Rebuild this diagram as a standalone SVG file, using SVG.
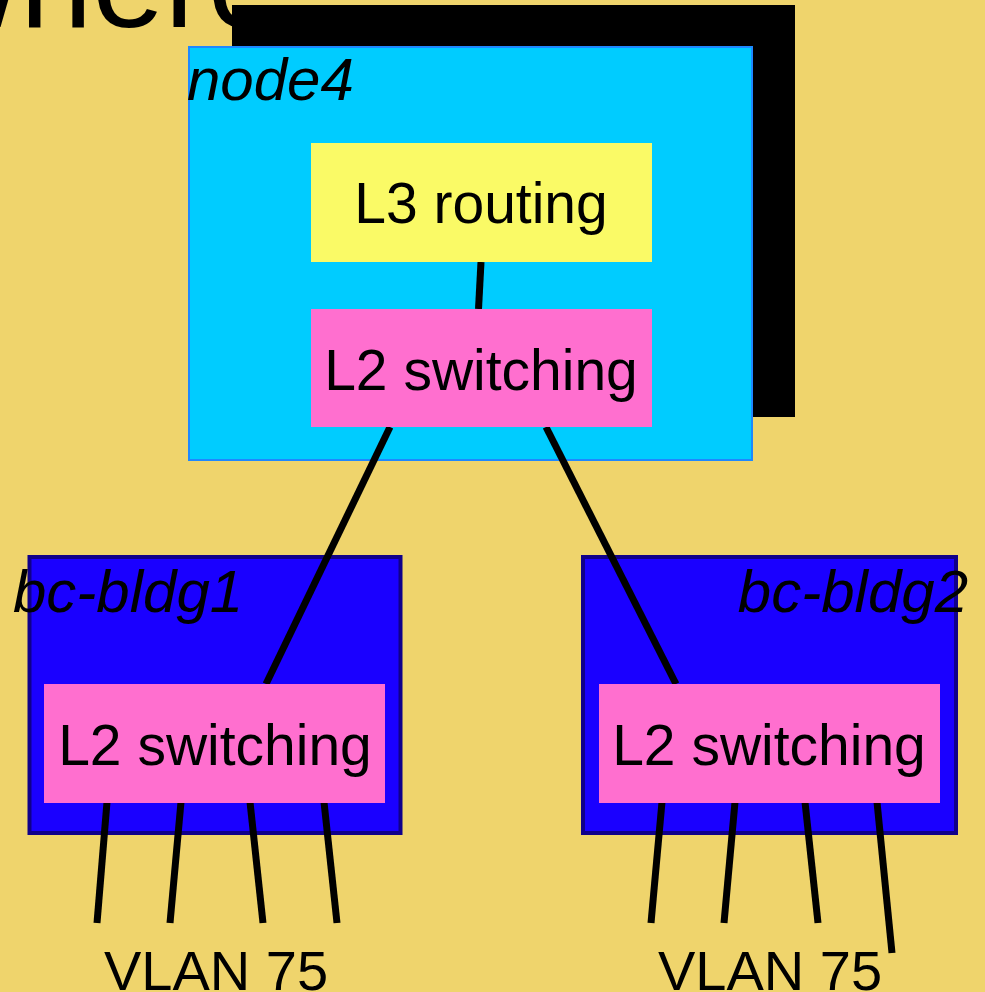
<svg xmlns="http://www.w3.org/2000/svg" width="985" height="992" viewBox="0 0 985 992">
  <style>
    text { font-family: "Liberation Sans", Arial, sans-serif; fill: #000; }
    .title { font-size: 130px; }
    .label { font-size: 57px; text-anchor: middle; }
    .tag { font-size: 60px; font-style: italic; }
    .vlan { font-size: 56px; }
    .host { fill: #00CCFF; stroke: #1E88FF; stroke-width: 2; }
    .site { fill: #1A00FF; stroke: #10008A; stroke-width: 4; }
    .l3 { fill: #FAFA66; }
    .l2 { fill: #FF6FCF; }
    .wire { stroke: #000; stroke-width: 7; fill: none; stroke-linecap: butt; }
  </style>

  <!-- backdrop -->
  <rect x="0" y="0" width="985" height="992" fill="#EFD46C"/>
  <text class="title" x="-74" y="27">where</text>
  <rect x="232" y="5" width="563" height="412" fill="#000"/>

  <!-- core router -->
  <g id="node4">
    <rect class="host" x="189" y="47" width="563" height="413"/>
    <text class="tag" x="187" y="100">node4</text>
  </g>
  <g id="bc-bldg1">
    <rect class="site" x="29.5" y="557" width="371" height="276"/>
    <text class="tag" x="13" y="612">bc-bldg1</text>
  </g>
  <g id="bc-bldg2">
    <rect class="site" x="583" y="557" width="373" height="276"/>
    <text class="tag" x="968" y="612" text-anchor="end">bc-bldg2</text>
  </g>

  <!-- links -->
  <g id="connectors">
    <line class="wire" x1="481" y1="262" x2="478.5" y2="309"/>
    <line class="wire" x1="390" y1="427" x2="266" y2="684"/>
    <line class="wire" x1="546" y1="427" x2="676" y2="684"/>
    <line class="wire" x1="107" y1="802" x2="97" y2="923"/>
    <line class="wire" x1="181" y1="802" x2="170" y2="923"/>
    <line class="wire" x1="250" y1="802" x2="263" y2="923"/>
    <line class="wire" x1="324" y1="802" x2="337" y2="923"/>
    <line class="wire" x1="662" y1="802" x2="651" y2="923"/>
    <line class="wire" x1="735" y1="802" x2="724" y2="923"/>
    <line class="wire" x1="805" y1="802" x2="818" y2="923"/>
    <line class="wire" x1="877" y1="802" x2="892" y2="953"/>
  </g>

  <g id="node4-l3">
    <rect class="l3" x="311" y="143" width="341" height="119"/>
    <text class="label" x="481" y="223">L3 routing</text>
  </g>
  <g id="node4-l2">
    <rect class="l2" x="311" y="309" width="341" height="118"/>
    <text class="label" x="481" y="390">L2 switching</text>
  </g>
  <g id="bldg1-l2">
    <rect class="l2" x="44" y="684" width="341" height="119"/>
    <text class="label" x="215" y="765">L2 switching</text>
  </g>
  <g id="bldg2-l2">
    <rect class="l2" x="599" y="684" width="341" height="119"/>
    <text class="label" x="769" y="765">L2 switching</text>
  </g>

  <g id="vlan-labels">
    <text class="vlan" x="104" y="990">VLAN 75</text>
    <text class="vlan" x="658" y="990">VLAN 75</text>
  </g>
</svg>
